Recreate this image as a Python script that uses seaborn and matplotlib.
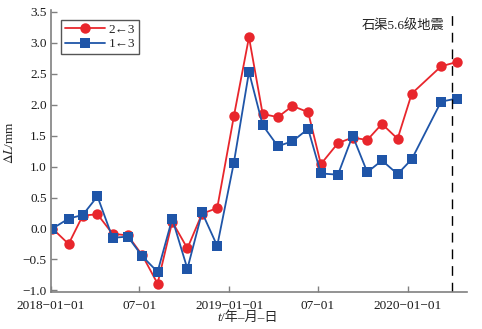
import matplotlib
matplotlib.use("Agg")
import matplotlib.pyplot as plt
import seaborn as sns
import pandas as pd

dates = ["2018-01-04", "2018-02-06", "2018-03-07", "2018-04-06", "2018-05-07", "2018-06-07",
         "2018-07-07", "2018-08-07", "2018-09-06", "2018-10-07", "2018-11-06", "2018-12-07",
         "2019-01-10", "2019-02-10", "2019-03-10", "2019-04-10", "2019-05-10", "2019-06-11",
         "2019-07-07", "2019-08-11", "2019-09-10", "2019-10-10", "2019-11-09", "2019-12-11",
         "2020-01-09", "2020-03-09", "2020-04-10"]
red_vals = [0.0, -0.25, 0.21, 0.23, -0.085, -0.11,
            -0.435, -0.89, 0.11, -0.32, 0.24, 0.33,
            1.81, 3.09, 1.85, 1.80, 1.98, 1.88,
            1.04, 1.38, 1.47, 1.43, 1.69, 1.45,
            2.18, 2.62, 2.69]
blue_vals = [0.0, 0.16, 0.22, 0.52, -0.15, -0.13,
             -0.45, -0.70, 0.16, -0.65, 0.26, -0.28,
             1.06, 2.53, 1.67, 1.33, 1.41, 1.61,
             0.89, 0.87, 1.50, 0.91, 1.10, 0.88,
             1.12, 2.05, 2.10]
series_names = ["2\u21903", "1\u21903"]
tick_dates = ["2018-01-01", "2018-07-01", "2019-01-01", "2019-07-01", "2020-01-01"]
tick_labels = ["2018\u221201\u221201", "07\u221201", "2019\u221201\u221201", "07\u221201", "2020\u221201\u221201"]
quake_date = "2020-04-01"
quake_label = "石渠5.6级地震"
yticks = [-1.0, -0.5, 0.0, 0.5, 1.0, 1.5, 2.0, 2.5, 3.0, 3.5]

sns.set_theme(style="ticks")
plt.rcParams["font.family"] = ["Liberation Serif", "Noto Sans CJK SC"]
plt.rcParams["mathtext.fontset"] = "stix"

df = pd.DataFrame({
    "date": pd.to_datetime(dates * 2),
    "value": red_vals + blue_vals,
    "series": [series_names[0]] * len(dates) + [series_names[1]] * len(dates),
})

fig = plt.figure(figsize=(4.82, 3.29), dpi=100)
ax = fig.add_axes([0.1058, 0.1134, 0.8631, 0.8562])

red = "#E8262C"
blue = "#1F55A8"
sns.lineplot(data=df, x="date", y="value", hue="series", style="series",
             palette={series_names[0]: red, series_names[1]: blue},
             markers={series_names[0]: "o", series_names[1]: "s"},
             dashes=False, markersize=7.5, markeredgewidth=0, linewidth=1.3, ax=ax)
for line in ax.get_lines():
    if line.get_marker() == "s":
        line.set_markersize(6.5)

ax.axvline(pd.Timestamp(quake_date), color="black", linestyle=(0, (7, 5)), linewidth=1.0)
ax.text(pd.Timestamp(quake_date) - pd.Timedelta(days=17), 3.27, quake_label,
        ha="right", va="center", fontsize=9.5, color="#222222")

ax.set_xlim(pd.Timestamp("2018-01-01"), pd.Timestamp("2020-05-01"))
ax.set_ylim(-1.02, 3.53)
ax.set_xticks([pd.Timestamp(d) for d in tick_dates])
ax.set_xticklabels(tick_labels)
ax.set_yticks(yticks)
ax.set_yticklabels([f"{v:.1f}".replace("-", "\u2212") for v in yticks])

for s in ["top", "right"]:
    ax.spines[s].set_visible(False)
for s in ["left", "bottom"]:
    ax.spines[s].set_color("#808080")
    ax.spines[s].set_linewidth(1.2)
ax.tick_params(direction="in", length=4, width=1.0, color="#808080",
               labelsize=9.5, labelcolor="#1a1a1a", pad=3)
ax.tick_params(axis="x", pad=6)

ax.set_xlabel("")
ax.set_ylabel(r"$\Delta\mathit{L}$/mm", fontsize=9.5)
ax.yaxis.set_label_coords(-0.085, 0.53)
fig.text(217 / 482, 1 - 318 / 329, "t", style="italic", ha="left", va="center", fontsize=9.5)
fig.text(221 / 482, 1 - 318 / 329, "/年–月–日", ha="left", va="center", fontsize=9.5)

h, l = ax.get_legend_handles_labels()
leg = ax.legend(h, l, loc="upper left", bbox_to_anchor=(0.025, 0.965), fontsize=9.5,
                frameon=True, fancybox=False, edgecolor="#555555", framealpha=1,
                handlelength=3.0, handletextpad=0.3, borderpad=0.3, labelspacing=0.15,
                borderaxespad=0)
leg.get_frame().set_linewidth(1.0)

fig.savefig("out.png", dpi=100)
